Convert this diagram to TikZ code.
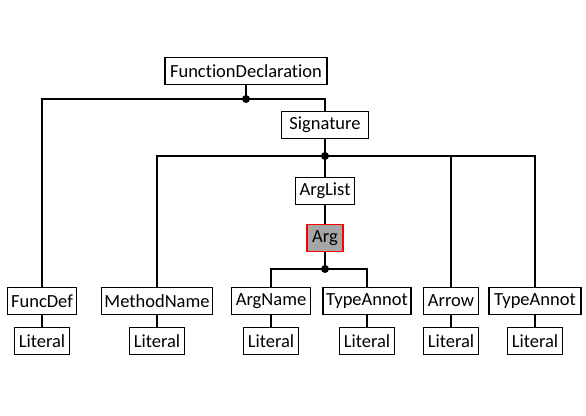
\documentclass[tikz,border=0pt]{standalone}
\usepackage{fontspec}
\setmainfont{Carlito}[Ligatures={NoCommon}]
\begin{document}
\begin{tikzpicture}[x=1pt,y=-1pt,
  box/.style={draw,line width=1.1pt,fill=white,minimum height=27pt,inner xsep=3pt,inner ysep=0pt,font=\fontsize{18.5}{20}\selectfont,anchor=center},
  hl/.style={box,fill=black!35,draw=red},
  conn/.style={line width=1.1pt},
  dot/.style={circle,fill=black,inner sep=0pt,minimum size=8pt}]
\useasboundingbox (0,0) rectangle (586,415);
\node[box,minimum width=162pt] (fd) at (246,71) {FunctionDeclaration};
\node[box,minimum width=87pt] (sig) at (325,125) {Signature};
\node[box,minimum width=59pt] (al) at (325,191) {ArgList};
\node[hl,minimum width=36pt] (arg) at (325,238) {Arg};
\node[box,minimum width=69pt] (fdef) at (42,301) {FuncDef};
\node[box,minimum width=111pt] (mn) at (157,301) {MethodName};
\node[box,minimum width=79pt] (an) at (271,301) {ArgName};
\node[box,minimum width=88pt] (ta1) at (367,301) {TypeAnnot};
\node[box,minimum width=55pt] (arr) at (451,301) {Arrow};
\node[box,minimum width=92pt] (ta2) at (535,301) {TypeAnnot};
\foreach \n/\x in {l1/42,l2/157,l3/271,l4/367,l5/451,l6/535}
  \node[box,minimum width=55pt] (\n) at (\x,341) {Literal};
\coordinate (d1) at (246,99);
\coordinate (d2) at (325,156);
\coordinate (d3) at (325,269);
\draw[conn] (fd.south) -- (d1);
\draw[conn] (d1) -| (fdef.north);
\draw[conn] (d1) -| (sig.north);
\draw[conn] (sig.south) -- (d2);
\draw[conn] (d2) -| (mn.north);
\draw[conn] (d2) -- (al.north);
\draw[conn] (d2) -| (arr.north);
\draw[conn] (d2) -| (ta2.north);
\draw[conn] (al.south) -- (arg.north);
\draw[conn] (arg.south) -- (d3);
\draw[conn] (d3) -| (an.north);
\draw[conn] (d3) -| (ta1.north);
\draw[conn] (fdef.south) -- (l1.north);
\draw[conn] (mn.south) -- (l2.north);
\draw[conn] (an.south) -- (l3.north);
\draw[conn] (ta1.south) -- (l4.north);
\draw[conn] (arr.south) -- (l5.north);
\draw[conn] (ta2.south) -- (l6.north);
\node[dot] (dot1) at (d1) {};
\node[dot] (dot2) at (d2) {};
\node[dot] (dot3) at (d3) {};
\end{tikzpicture}
\end{document}
